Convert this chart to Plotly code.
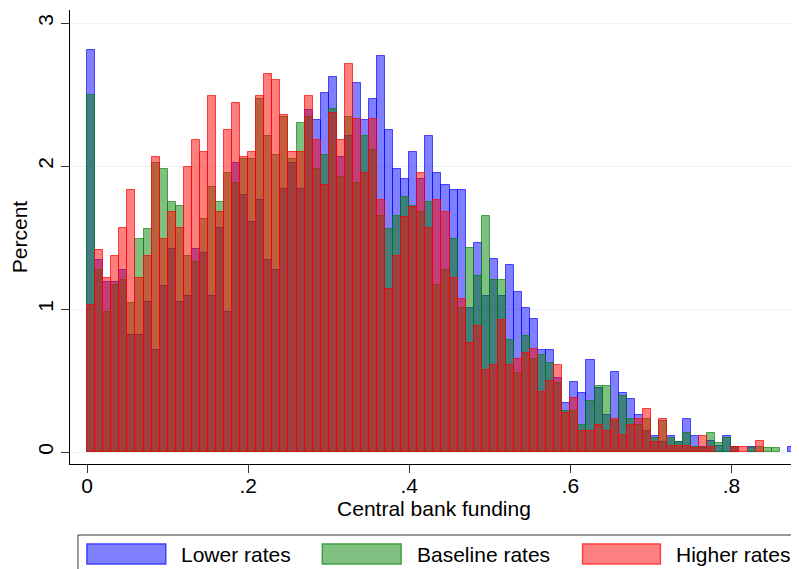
import plotly.graph_objects as go

bin_width = 0.01
bin_left = [round(k * bin_width, 2) for k in range(88)]

lower_rates = [2.81, 1.34, 1.19, 1.19, 1.27, 0.82, 0.82, 1.05, 0.71, 1.16,
               1.42, 1.05, 1.09, 1.42, 1.39, 1.09, 1.57, 0.98, 2.02, 1.80,
               1.61, 1.76, 1.34, 1.27, 1.84, 2.02, 1.84, 2.39, 2.32, 2.51,
               2.62, 2.06, 2.21, 2.58, 2.32, 2.47, 2.77, 2.25, 1.98, 1.91,
               2.10, 1.91, 2.21, 1.95, 1.87, 1.83, 1.83, 1.01, 1.46, 1.09,
               1.35, 1.09, 1.31, 1.12, 1.01, 0.93, 0.71, 0.71, 0.52, 0.34,
               0.49, 0.41, 0.64, 0.45, 0.26, 0.56, 0.41, 0.37, 0.26, 0.15,
               0.11, 0.07, 0.11, 0.07, 0.23, 0.11, 0.035, 0.075, 0.04, 0.11,
               0.035, 0, 0.035, 0, 0, 0, 0, 0.035]

baseline_rates = [2.50, 1.27, 0.98, 1.17, 1.20, 1.04, 1.49, 1.56, 2.02, 1.98,
                  1.75, 1.72, 1.37, 1.33, 1.63, 1.85, 1.75, 1.95, 1.88, 2.05,
                  2.05, 2.47, 2.21, 2.08, 2.34, 2.05, 2.30, 2.34, 1.98, 2.08,
                  2.40, 1.92, 2.34, 1.88, 2.21, 2.11, 1.65, 1.56, 1.65, 1.78,
                  1.72, 1.68, 1.75, 1.17, 1.27, 1.49, 1.01, 1.43, 1.23, 1.65,
                  1.20, 1.20, 0.78, 0.55, 0.81, 0.65, 0.68, 0.62, 0.48, 0.29,
                  0.29, 0.19, 0.36, 0.46, 0.46, 0.22, 0.39, 0.23, 0.19, 0.23,
                  0.10, 0.22, 0.10, 0.07, 0.13, 0.035, 0.03, 0.13, 0.065, 0.095,
                  0.035, 0, 0.03, 0.035, 0.03, 0.03, 0, 0]

higher_rates = [1.03, 1.41, 1.22, 1.37, 1.57, 1.83, 1.22, 1.37, 2.06, 1.49,
                1.68, 1.57, 1.99, 2.18, 2.10, 2.49, 1.68, 2.25, 2.44, 2.06,
                2.10, 2.49, 2.64, 2.60, 2.36, 2.10, 2.10, 2.49, 2.18, 1.87,
                2.37, 2.18, 2.71, 2.33, 1.95, 2.33, 1.76, 1.14, 1.37, 1.64,
                1.71, 1.95, 1.57, 1.76, 1.68, 1.22, 1.07, 0.76, 0.88, 0.57,
                0.61, 0.92, 0.61, 0.65, 0.69, 0.72, 0.42, 0.50, 0.61, 0.27,
                0.38, 0.15, 0.15, 0.19, 0.15, 0.23, 0.12, 0.19, 0.23, 0.30,
                0.07, 0.23, 0.04, 0.04, 0.04, 0.03, 0.115, 0.035, 0, 0,
                0.035, 0.035, 0, 0.075, 0, 0, 0, 0]

series_names = ["Lower rates", "Baseline rates", "Higher rates"]
x_tick_vals = [0, 0.2, 0.4, 0.6, 0.8]
x_tick_text = ["0", ".2", ".4", ".6", ".8"]
y_tick_vals = [0, 1, 2, 3]
y_tick_text = ["0", "1", "2", "3"]

fills = ["rgba(0,0,255,0.5)", "rgba(0,128,0,0.5)", "rgba(255,0,0,0.5)"]
lines = ["rgba(0,0,255,0.65)", "rgba(0,128,0,0.65)", "rgba(255,0,0,0.7)"]
legend_fill = ["#8080FF", "#80C080", "#FF8080"]
legend_line = ["#4040FF", "#40A040", "#FF4040"]

# page body has an 8px margin; size the figure so it fills the window
OFF = 8
W, H = 799 - OFF, 569 - OFF
L, R, T, B = 68 - OFF, 1, 10 - OFF, 105
pw, ph = W - L - R, H - T - B

def px(xp):
    return (xp - OFF - L) / pw

def py(yp):
    return (H - B - (yp - OFF)) / ph

FONT = "Liberation Sans, Arial, Helvetica, sans-serif"

fig = go.Figure()
for name, vals, fc, lc in zip(series_names, [lower_rates, baseline_rates, higher_rates], fills, lines):
    fig.add_trace(go.Bar(
        x=bin_left,
        y=[v if v > 0 else None for v in vals],
        width=bin_width,
        offset=0,
        name=name,
        marker=dict(color=fc, line=dict(color=lc, width=1)),
        showlegend=False,
    ))

shapes = []
annotations = []
shapes.append(dict(type="rect", xref="paper", yref="paper",
                   x0=px(76), x1=px(806), y0=py(585), y1=py(535),
                   line=dict(color="#333333", width=1), fillcolor="white", layer="above"))
sw = [(85, 164, 177), (321, 400, 414), (582, 660, 674)]
for (x0, x1, tx), name, fc, lc in zip(sw, series_names, legend_fill, legend_line):
    shapes.append(dict(type="rect", xref="paper", yref="paper",
                       x0=px(x0), x1=px(x1), y0=py(564), y1=py(544),
                       line=dict(color=lc, width=1.5), fillcolor=fc, layer="above"))
    annotations.append(dict(xref="paper", yref="paper", x=px(tx), y=py(554),
                            xanchor="left", yanchor="middle", text=name, showarrow=False,
                            font=dict(family=FONT, size=21, color="black")))

fig.update_layout(
    width=W, height=H,
    margin=dict(l=L, r=R, t=T, b=B, pad=0),
    paper_bgcolor="white", plot_bgcolor="white",
    barmode="overlay", bargap=0,
    font=dict(family=FONT, size=20, color="black"),
    shapes=shapes, annotations=annotations,
    xaxis=dict(range=[-0.0213, 0.8827], tickvals=x_tick_vals, ticktext=x_tick_text,
               showgrid=False, zeroline=False, showline=True, linecolor="black", linewidth=1,
               ticks="outside", ticklen=8, tickcolor="#333333", tickwidth=1,
               ticklabelstandoff=-5,
               tickfont=dict(family=FONT, size=21, color="black"),
               title=dict(text="Central bank funding", font=dict(family=FONT, size=21, color="black"), standoff=4)),
    yaxis=dict(range=[-0.0839, 3.091], tickvals=y_tick_vals, ticktext=y_tick_text,
               showgrid=True, gridcolor="#EAF2F3", gridwidth=1, zeroline=False,
               showline=True, linecolor="black", linewidth=1,
               ticks="outside", ticklen=8, tickcolor="#333333", tickwidth=1, tickangle=-90,
               tickfont=dict(family=FONT, size=21, color="black"),
               title=dict(text="Percent", font=dict(family=FONT, size=21, color="black"), standoff=10)),
)

fig.write_html("out.html")
